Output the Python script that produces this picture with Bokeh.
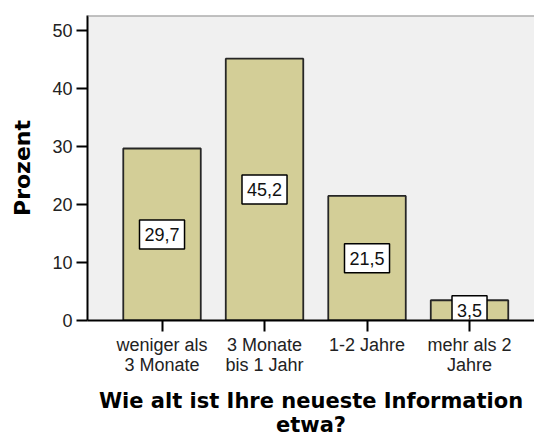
from bokeh.plotting import figure
from bokeh.models import Range1d, FixedTicker, Span, ColumnDataSource
from bokeh.core.properties import value
from bokeh.embed import file_html
from bokeh.resources import INLINE

categories = ["weniger als\n3 Monate", "3 Monate\nbis 1 Jahr", "1-2 Jahre", "mehr als 2\nJahre"]
percent = [29.7, 45.2, 21.5, 3.5]
y_ticks = [0, 10, 20, 30, 40, 50]
x_title = "Wie alt ist Ihre neueste Information\netwa?"
y_title = "Prozent"

xs = list(range(len(categories)))
y_end = 52.66
src = ColumnDataSource(dict(
    x=xs,
    top=percent,
    mid=[v / 2 for v in percent],
    lab=[f"{v:.1f}".replace(".", ",") for v in percent],
))

p = figure(width=534, height=439,
           x_range=Range1d(-0.727, 3.634), y_range=Range1d(0, y_end),
           output_backend="svg", toolbar_location=None,
           min_border_left=87, min_border_right=0, min_border_top=15, min_border_bottom=118)

p.background_fill_color = "#F0F0F0"
p.border_fill_color = "white"
p.outline_line_color = None
p.grid.visible = False

p.vbar(x="x", top="top", width=0.756, source=src,
       fill_color="#D3CE97", line_color="#262626", line_width=1.8)

p.text(x="x", y="mid", text="lab", source=src,
       text_align="center", text_baseline="middle",
       text_font=value("Liberation Sans"), text_font_size="18px", text_color="#111111",
       background_fill_color="white", border_line_color="black", border_line_width=1.5,
       padding=dict(x=5, y=8))

p.add_layout(Span(location=y_end, dimension="width", line_color="#8c8c8c", line_width=2))

for ax in (p.xaxis[0], p.yaxis[0]):
    ax.axis_line_width = 2
    ax.axis_line_color = "black"
    ax.major_tick_line_width = 2
    ax.major_tick_line_color = "black"
    ax.major_tick_out = 11
    ax.major_tick_in = 0
    ax.minor_tick_out = 0
    ax.minor_tick_in = 0
    ax.major_label_text_font = "Liberation Sans"
    ax.major_label_text_font_size = "18px"
    ax.major_label_text_color = "#222222"
    ax.axis_label_text_font = "DejaVu Sans"
    ax.axis_label_text_font_style = "bold"
    ax.axis_label_text_color = "black"

p.xaxis.ticker = FixedTicker(ticks=xs)
p.xaxis.major_label_overrides = {i: c for i, c in enumerate(categories)}
p.xaxis.major_label_standoff = 3
p.xaxis.major_label_text_line_height = 1.0
p.xaxis.axis_label = x_title
p.xaxis.axis_label_text_font_size = "21px"
p.xaxis.axis_label_text_line_height = 1.0
p.xaxis.axis_label_standoff = 11

p.yaxis.ticker = FixedTicker(ticks=y_ticks)
p.yaxis.major_label_standoff = 4
p.yaxis.axis_label = y_title
p.yaxis.axis_label_text_font_size = "22px"
p.yaxis.axis_label_standoff = 14

open("out.html", "w").write(file_html(p, INLINE))
